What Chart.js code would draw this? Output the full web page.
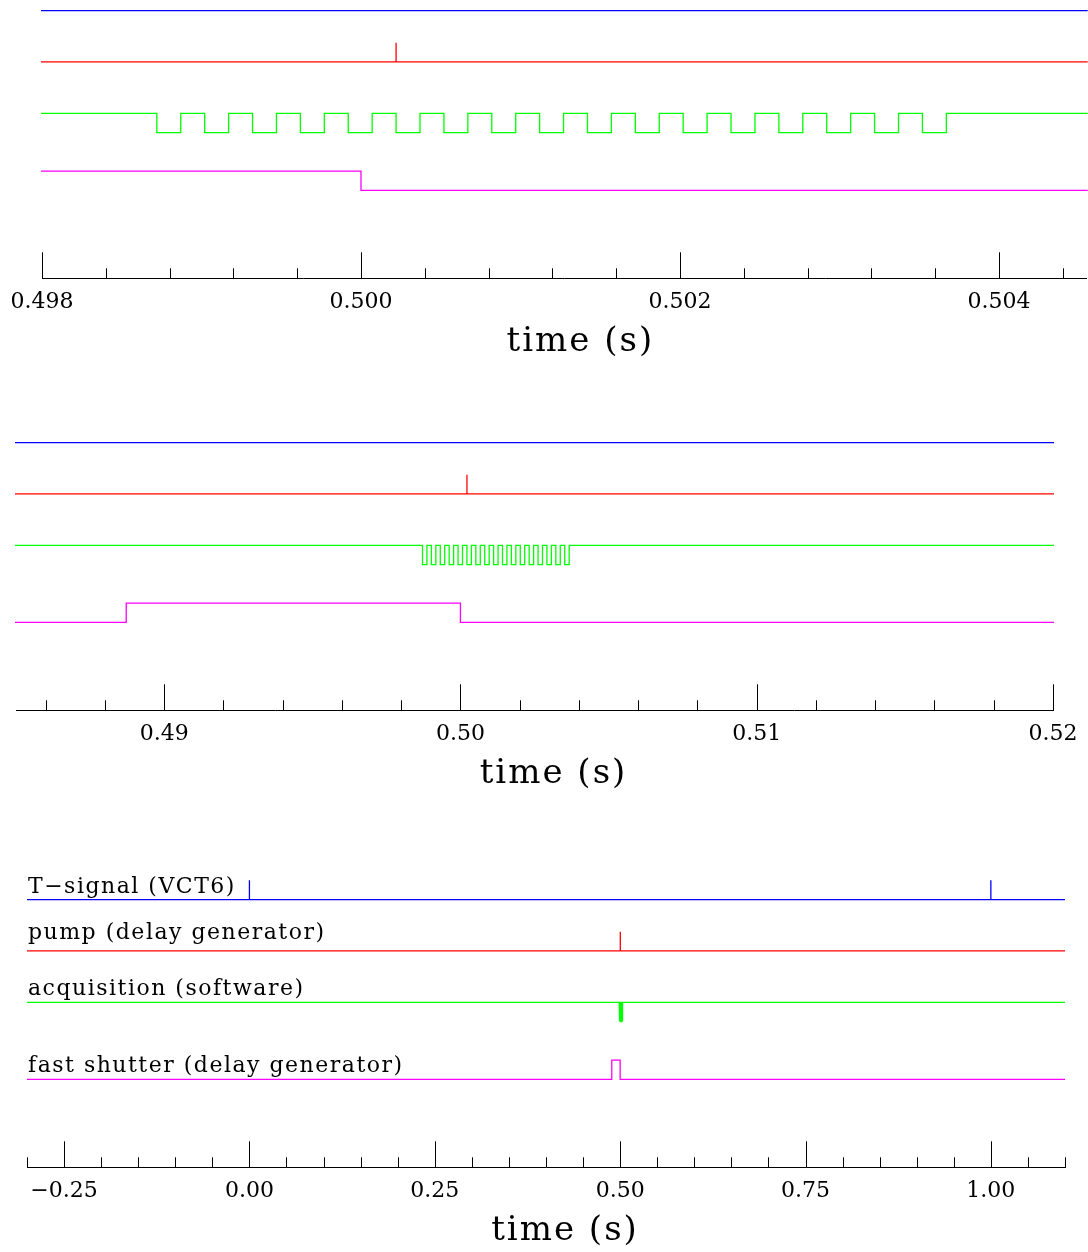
<!DOCTYPE html>
<html>
<head>
<meta charset="utf-8">
<script src="https://cdn.jsdelivr.net/npm/chart.js@4.4.0/dist/chart.umd.min.js"></script>
<style>
  html, body { margin: 0; padding: 0; background: #fff; overflow: hidden; }
  body { width: 1088px; height: 1252px; position: relative; }
  canvas { position: absolute; left: 0; }
</style>
</head>
<body>
<canvas id="fineView" width="1088" height="364" style="top:0px"></canvas>
<canvas id="midView" width="1088" height="376" style="top:420px"></canvas>
<canvas id="cycleView" width="1088" height="403" style="top:850px"></canvas>
<script>
// Channels (top to bottom)
const channelNames = ['T\u2212signal (VCT6)', 'pump (delay generator)', 'acquisition (software)', 'fast shutter (delay generator)'];
const channelColors = ['#0000ff', '#ff0000', '#00ff00', '#ff00ff'];
const channelOffsets = [3.5, 2.5, 1.5, 0];
// pulse height, negative means the pulse goes down
const channelAmplitudes = [0.375, 0.375, -0.375, 0.375];

// Edge times in seconds, every edge toggles the signal
const tSignalEdges = [0.0, 0.0, 1.0, 1.0];
const pumpEdges = [0.50022, 0.50022];
const acquisitionEdges = [
    0.49872, 0.49887, 0.49902, 0.49917, 0.49932, 0.49947, 0.49962, 0.49977,
    0.49992, 0.50007, 0.50022, 0.50037, 0.50052, 0.50067, 0.50082, 0.50097,
    0.50112, 0.50127, 0.50142, 0.50157, 0.50172, 0.50187, 0.50202, 0.50217,
    0.50232, 0.50247, 0.50262, 0.50277, 0.50292, 0.50307, 0.50322, 0.50337,
    0.50352, 0.50367
];
const shutterEdges = [0.48872, 0.50000];
const allEdges = [tSignalEdges, pumpEdges, acquisitionEdges, shutterEdges];
const timeSpan = [-0.3, 1.1];

// Axis ranges and ticks for the three views
const fineRange = [0.498, 0.50455];
const fineMajor = [0.498, 0.500, 0.502, 0.504];
const fineMinor = [0.4984, 0.4988, 0.4992, 0.4996, 0.5004, 0.5008, 0.5012, 0.5016,
                   0.5024, 0.5028, 0.5032, 0.5036, 0.5044];

const midRange = [0.485, 0.52];
const midMajor = [0.49, 0.50, 0.51, 0.52];
const midMinor = [0.486, 0.488, 0.492, 0.494, 0.496, 0.498, 0.502, 0.504, 0.506, 0.508,
                  0.512, 0.514, 0.516, 0.518];

const cycleRange = [-0.3, 1.1];
const cycleMajor = [-0.25, 0.00, 0.25, 0.50, 0.75, 1.00];
const cycleMinor = [-0.30, -0.20, -0.15, -0.10, -0.05, 0.05, 0.10, 0.15, 0.20, 0.30, 0.35,
                    0.40, 0.45, 0.55, 0.60, 0.65, 0.70, 0.80, 0.85, 0.90, 0.95, 1.05, 1.10];

const SERIF = '"DejaVu Serif", serif';
const labelLift = [7, 12, 7, 7];

// build a step trace from edge list
function waveform(edges, offset, amp) {
    let level = 0;
    const pts = [{ x: timeSpan[0], y: offset }];
    edges.forEach(t => {
        pts.push({ x: t, y: offset + level * amp });
        level = 1 - level;
        pts.push({ x: t, y: offset + level * amp });
    });
    pts.push({ x: timeSpan[1], y: offset + level * amp });
    return pts;
}

function fmt(v, dec) {
    return (v < 0 ? '\u2212' : '') + Math.abs(v).toFixed(dec);
}

// tick marks point up into the plot, plus axis title and channel names
const axisDecor = {
    id: 'axisDecor',
    afterDraw(chart, args, opts) {
        const ctx = chart.ctx;
        const xs = chart.scales.x, ys = chart.scales.y;
        const base = xs.top;
        ctx.save();
        ctx.strokeStyle = '#000';
        ctx.lineWidth = 1;
        ctx.beginPath();
        opts.major.forEach(v => {
            const px = Math.round(xs.getPixelForValue(v)) + 0.5;
            ctx.moveTo(px, base);
            ctx.lineTo(px, base - 26);
        });
        opts.minor.forEach(v => {
            const px = Math.round(xs.getPixelForValue(v)) + 0.5;
            ctx.moveTo(px, base);
            ctx.lineTo(px, base - 10);
        });
        ctx.stroke();

        ctx.fillStyle = '#000';
        ctx.font = '34px ' + SERIF;
        ctx.letterSpacing = '2px';
        ctx.textAlign = 'center';
        ctx.textBaseline = 'alphabetic';
        ctx.fillText('time (s)', (xs.left + xs.right) / 2 + opts.titleShift, base + 73);

        if (opts.names) {
            ctx.font = '22px ' + SERIF;
            ctx.letterSpacing = '1.5px';
            ctx.textAlign = 'left';
            channelNames.forEach((n, i) => {
                ctx.fillText(n, xs.left + 1, ys.getPixelForValue(channelOffsets[i]) - labelLift[i]);
            });
        }
        ctx.restore();
    }
};

function makeView(id, range, major, minor, dec, pad, titleShift, names) {
    const datasets = allEdges.map((edges, i) => ({
        data: waveform(edges, channelOffsets[i], channelAmplitudes[i]),
        borderColor: channelColors[i],
        borderWidth: 1.3,
        pointRadius: 0,
        tension: 0,
        fill: false,
        clip: { left: 1, right: 1, top: 40, bottom: 2 }
    }));
    return new Chart(document.getElementById(id), {
        type: 'line',
        data: { datasets },
        options: {
            responsive: false,
            animation: false,
            devicePixelRatio: 1,
            layout: { padding: pad },
            plugins: {
                legend: { display: false },
                tooltip: { enabled: false },
                axisDecor: { major, minor, names, titleShift }
            },
            scales: {
                x: {
                    type: 'linear',
                    min: range[0],
                    max: range[1],
                    grid: { display: false },
                    border: { display: true, color: '#000', width: 1 },
                    afterBuildTicks: s => { s.ticks = major.map(v => ({ value: v })); },
                    afterFit: s => { s.height = 46; },
                    ticks: {
                        color: '#000',
                        font: { family: SERIF, size: 22 },
                        padding: 3,
                        maxRotation: 0,
                        autoSkip: false,
                        callback: v => fmt(v, dec)
                    }
                },
                y: { display: false, min: -1.71, max: 3.68 }
            }
        },
        plugins: [axisDecor]
    });
}

makeView('fineView', fineRange, fineMajor, fineMinor, 3, { top: 1.3, bottom: 39.7, left: 42, right: 1.3 }, 16, false);
makeView('midView', midRange, midMajor, midMinor, 2, { top: 13.3, bottom: 39.7, left: 16, right: 35 }, 19, false);
makeView('cycleView', cycleRange, cycleMajor, cycleMinor, 2, { top: 40.3, bottom: 39.7, left: 27, right: 23 }, 19, true);
</script>
</body>
</html>
